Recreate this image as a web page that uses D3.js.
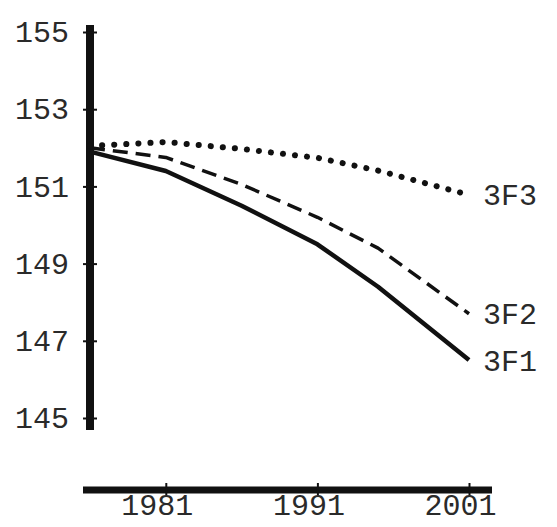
<!DOCTYPE html>
<html>
<head>
<meta charset="utf-8">
<script src="https://cdn.jsdelivr.net/npm/d3@7"></script>
<style>
  html, body { margin: 0; padding: 0; background: #fff; }
  svg { display: block; }
  text { font-family: "Liberation Mono", "Courier New", monospace; fill: #2a2a2a; }
</style>
</head>
<body>
<div id="chart"></div>
<script>
// Survey years and the three series (3F1 solid, 3F2 dashed, 3F3 dotted)
const years = [1976, 1981, 1986, 1991, 1995, 2001];
const series3F1 = [151.9, 151.4, 150.5, 149.5, 148.4, 146.5];
const series3F2 = [152.0, 151.75, 151.05, 150.2, 149.4, 147.7];
const series3F3 = [152.05, 152.15, 151.97, 151.74, 151.41, 150.78];
const seriesNames = ["3F1", "3F2", "3F3"];

// Axis ticks
const yTicks = [145, 147, 149, 151, 153, 155];
const xTicks = [1981, 1991, 2001];

const W = 557, H = 527;
const svg = d3.select("#chart").append("svg")
  .attr("width", W).attr("height", H);

const x = d3.scaleLinear().domain([1976, 2001]).range([90, 469]);
const y = d3.scaleLinear().domain([145, 155]).range([418, 32]);

const ink = "#111";
const textInk = "#2a2a2a";

// Vertical axis: heavy rule plus ticks crossing it
svg.append("line")
  .attr("x1", x(1976)).attr("x2", x(1976))
  .attr("y1", y(155) - 7).attr("y2", y(145) + 12)
  .attr("stroke", ink).attr("stroke-width", 8);

const yAxis = svg.append("g")
  .attr("transform", `translate(${x(1976)},0)`)
  .call(d3.axisLeft(y).tickValues(yTicks).tickSize(7).tickPadding(14)
          .tickFormat(d3.format("d")));
yAxis.select(".domain").remove();
yAxis.attr("font-family", null).attr("font-size", null);
yAxis.selectAll(".tick line")
  .attr("x1", 7).attr("stroke", ink).attr("stroke-width", 2);
yAxis.selectAll(".tick text")
  .attr("font-size", 30).attr("fill", textInk);

// Horizontal axis at the foot of the chart
const baseY = 490;
svg.append("line")
  .attr("x1", x(1976) - 7).attr("x2", x(2001) + 23)
  .attr("y1", baseY).attr("y2", baseY)
  .attr("stroke", ink).attr("stroke-width", 7);

const xAxis = svg.append("g")
  .attr("transform", `translate(0,${baseY})`)
  .call(d3.axisBottom(x).tickValues(xTicks).tickSize(5).tickPadding(0)
          .tickFormat(d3.format("d")));
xAxis.select(".domain").remove();
xAxis.attr("font-family", null).attr("font-size", null);
xAxis.selectAll(".tick line")
  .attr("y1", -7).attr("stroke", ink).attr("stroke-width", 2);
xAxis.selectAll(".tick text")
  .attr("font-size", 30).attr("fill", textInk)
  .attr("y", 25).attr("dy", 0).attr("dx", -9);

// Series lines
const line = d3.line()
  .x((d, i) => x(years[i]))
  .y(d => y(d));

const styles = [
  { data: series3F1, width: 4.5, dash: null, cap: "butt" },
  { data: series3F2, width: 3.5, dash: "15 8", cap: "butt" },
  { data: series3F3, width: 6, dash: "0.1 12", cap: "round" }
];

styles.forEach((s, k) => {
  svg.append("path")
    .datum(s.data)
    .attr("d", line)
    .attr("fill", "none")
    .attr("stroke", ink)
    .attr("stroke-width", s.width)
    .attr("stroke-linejoin", "round")
    .attr("stroke-linecap", s.cap)
    .attr("stroke-dasharray", s.dash);

  svg.append("text")
    .attr("x", x(years[years.length - 1]) + 14)
    .attr("y", y(s.data[s.data.length - 1]))
    .attr("dy", "0.35em")
    .attr("font-size", 30)
    .attr("fill", textInk)
    .text(seriesNames[k]);
});
</script>
</body>
</html>
